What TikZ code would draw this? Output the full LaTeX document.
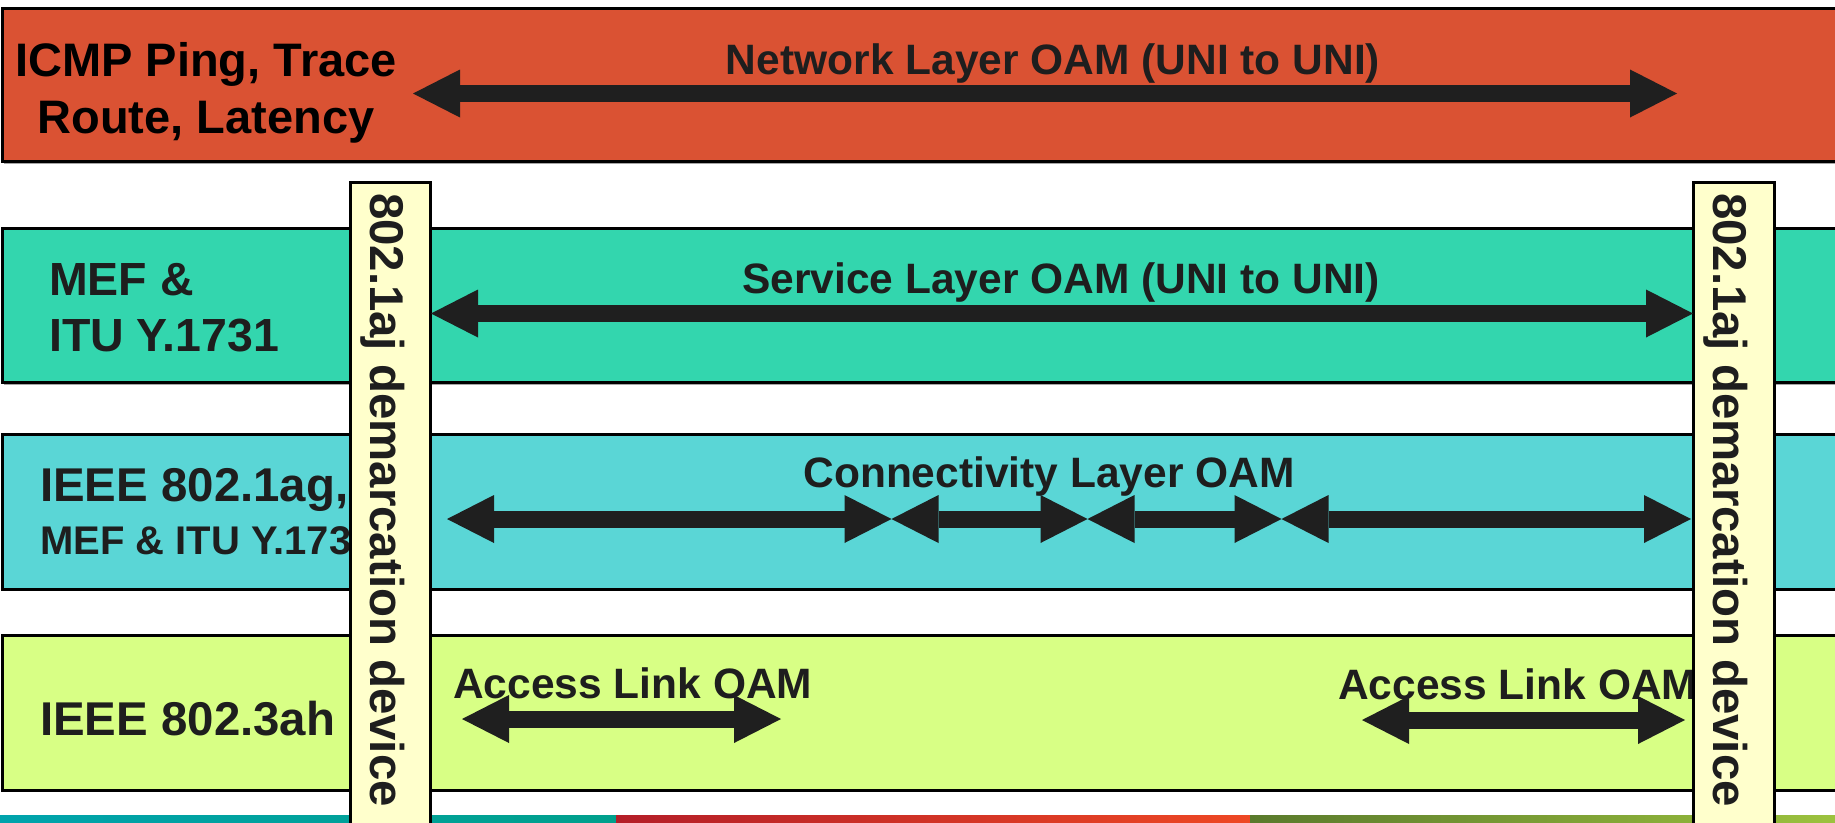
\documentclass[tikz,border=0pt]{standalone}
\usepackage{fontspec}
\setmainfont{Liberation Sans}
\usetikzlibrary{arrows.meta}
\definecolor{bandred}{HTML}{DA5233}
\definecolor{bandgreen}{HTML}{33D6AE}
\definecolor{bandcyan}{HTML}{5AD6D6}
\definecolor{bandlime}{HTML}{D8FF85}
\definecolor{demarcfill}{HTML}{FFFFCC}
\definecolor{arrowc}{HTML}{1F1F1F}
\definecolor{txt}{HTML}{1E1E1E}
\definecolor{stripteal}{HTML}{00A3AC}
\definecolor{stripteal2}{HTML}{00A08C}
\definecolor{stripred}{HTML}{B41E28}
\definecolor{stripred2}{HTML}{EE4824}
\definecolor{stripgreen}{HTML}{5A7A2C}
\definecolor{stripgreen2}{HTML}{9CC23E}
\tikzset{
  band/.style={draw=black, line width=3pt},
  bandshadow/.style={fill=black!35},
  lbl/.style={font=\fontsize{46.5}{56}\selectfont\bfseries, text=txt, inner sep=0pt, anchor=base west},
  oamlbl/.style={font=\fontsize{42.5}{50}\selectfont\bfseries, text=txt, inner sep=0pt, anchor=base},
  demarc/.style={draw=black, line width=3pt, fill=demarcfill},
  demtxt/.style={font=\fontsize{47.4}{56}\selectfont\bfseries, text=txt, rotate=-90, inner sep=0pt, anchor=base},
  dblarrow/.style={draw=arrowc, line width=17pt,
    {Triangle[length=47pt,width=48pt,line width=0pt]}-{Triangle[length=47pt,width=48pt,line width=0pt]}},
}
\begin{document}
\begin{tikzpicture}[x=1pt,y=-1pt]
\useasboundingbox (0,0) rectangle (1835,822);
\clip (0,0) rectangle (1835,822);
% bottom strip
\shade[left color=stripteal, right color=stripteal2] (0,815) rectangle (616,822);
\shade[left color=stripred, right color=stripred2] (616,815) rectangle (1250,822);
\shade[left color=stripgreen, right color=stripgreen2] (1250,815) rectangle (1835,822);
% bands
\fill[bandshadow] (4,10) rectangle (1850,163.5);
\draw[band, fill=bandred] (2,8) rectangle (1850,161);
\fill[bandshadow] (4,230) rectangle (1850,384.5);
\draw[band, fill=bandgreen] (2,228) rectangle (1850,382);
\fill[bandshadow] (4,436) rectangle (1850,591);
\draw[band, fill=bandcyan] (2,434) rectangle (1850,589);
\fill[bandshadow] (4,637) rectangle (1850,792);
\draw[band, fill=bandlime] (2,635) rectangle (1850,790);
% band labels
\node[lbl, text=black, anchor=base, align=center, font=\fontsize{47}{57}\selectfont\bfseries] (icmp) at (206,133) {ICMP Ping, Trace\\Route, Latency};
\node[lbl] (mef1) at (49,295) {MEF \&};
\node[lbl] (mef2) at (49,351) {ITU Y.1731};
\node[lbl, font=\fontsize{47.4}{56}\selectfont\bfseries] (ieee1) at (40,501) {IEEE 802.1ag,};
\node[lbl, font=\fontsize{40}{48}\selectfont\bfseries] (ieee2) at (40,554) {MEF \& ITU Y.1731};
\node[lbl, font=\fontsize{47.4}{56}\selectfont\bfseries] (ieee3) at (40,735) {IEEE 802.3ah};
% OAM labels
\node[oamlbl] (netlbl) at (1053,74) {Network Layer OAM (UNI to UNI)};
\node[oamlbl] (svclbl) at (1061,293) {Service Layer OAM (UNI to UNI)};
\node[oamlbl] (conlbl) at (1049,487) {Connectivity Layer OAM};
\node[oamlbl, anchor=base west] (acc1lbl) at (453,698) {Access Link OAM};
\node[oamlbl, anchor=base west] (acc2lbl) at (1338,699) {Access Link OAM};
% demarcation boxes
\draw[demarc] (350,182) rectangle (430.5,830);
\node[demtxt] (dem1) at (370,500) {802.1aj demarcation device};
\draw[demarc] (1693,182) rectangle (1774,830);
\node[demtxt] (dem2) at (1713,500) {802.1aj demarcation device};
% arrow end points
\coordinate (n1) at (413,93.5);
\coordinate (n2) at (1677,93.5);
\coordinate (s1) at (431,313.5);
\coordinate (s2) at (1693,313.5);
\coordinate (c0) at (447,519);
\coordinate (c1) at (891.5,519);
\coordinate (c2) at (1087.5,519);
\coordinate (c3) at (1281.5,519);
\coordinate (c4) at (1691,519);
\coordinate (a1) at (462,719);
\coordinate (a2) at (781,719);
\coordinate (b1) at (1362,720);
\coordinate (b2) at (1685,720);
% arrows
\draw[dblarrow] (n1) -- (n2);
\draw[dblarrow] (s1) -- (s2);
\draw[dblarrow] (c0) -- (c1);
\draw[dblarrow] (c1) -- (c2);
\draw[dblarrow] (c2) -- (c3);
\draw[dblarrow] (c3) -- (c4);
\draw[dblarrow] (a1) -- (a2);
\draw[dblarrow] (b1) -- (b2);
\end{tikzpicture}
\end{document}
